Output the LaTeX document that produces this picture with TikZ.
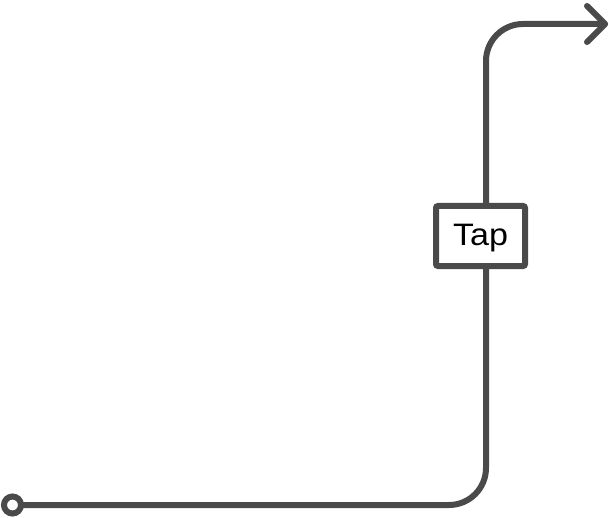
\documentclass[tikz,border=0pt]{standalone}
\usepackage{fontspec}
\setmainfont{Liberation Sans}
\newfontfamily\tapfont[FakeStretch=1.1]{Liberation Sans}
\definecolor{ink}{RGB}{74,74,74}
\begin{document}
\begin{tikzpicture}[x=1pt,y=-1pt]
\tikzset{
  wire/.style={draw=ink,line width=6pt,line cap=round,line join=round},
  tapbox/.style={draw=ink,fill=white,line width=6pt,rounded corners=2pt,minimum width=89pt,minimum height=60pt,inner sep=0pt},
  taptext/.style={font=\tapfont\fontsize{31}{38}\selectfont,text=black,inner sep=0pt,anchor=base},
  startdot/.style={circle,draw=ink,fill=white,line width=6pt,minimum size=17pt,inner sep=0pt}
}
\useasboundingbox (0,0) rectangle (609,518);
\coordinate (c1) at (486,505);
\coordinate (c2) at (486,24);
\coordinate (e) at (605,24);
\coordinate (w1) at (587,6);
\coordinate (w2) at (587,42);
\draw[wire, rounded corners=37pt] (21,505) -- (c1) -- (c2) -- (e);
\node[startdot] (s) at (12.5,505) {};
\node[tapbox] (tap) at (480.5,236) {};
\node[taptext] (taplabel) at (480.5,246) {Tap};
\draw[wire] (w1) -- (e) -- (w2);
\end{tikzpicture}
\end{document}
